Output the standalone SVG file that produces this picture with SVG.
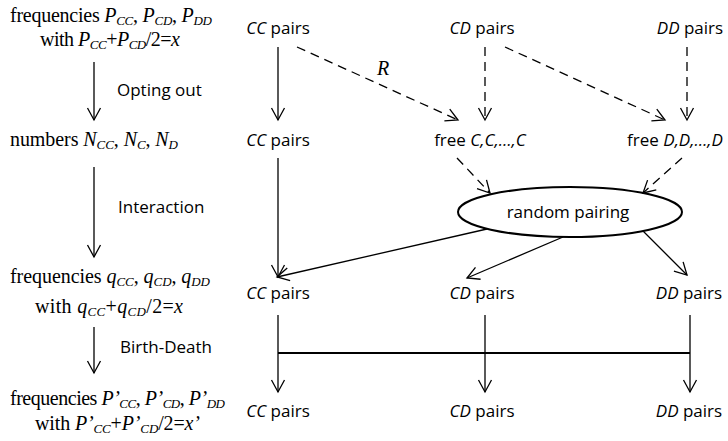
<svg xmlns="http://www.w3.org/2000/svg" width="728" height="441" viewBox="0 0 728 441">
<defs>
<style>
.serif{font-family:"Liberation Serif","Times New Roman",serif;font-size:20px;fill:#000}
.sans{font-family:"Open Sans","Liberation Sans",sans-serif;font-size:17px;fill:#000}
.it{font-style:italic}
.sub{font-style:italic;font-size:13px}
.ln{fill:none;stroke:#000;stroke-width:1.3}
.dash{stroke-dasharray:9 6}
</style>
<marker id="ah" viewBox="-14 -8 16 16" refX="0" refY="0" markerWidth="16" markerHeight="16" markerUnits="userSpaceOnUse" orient="auto">
<path d="M-12,-6.5 L0,0 L-12,6.5" fill="none" stroke="#000" stroke-width="1.3"/>
</marker>
</defs>
<rect width="728" height="441" fill="#fff"/>

<g id="left-1">
<text class="serif" x="10" y="22" textLength="202" lengthAdjust="spacing">frequencies <tspan class="it">P</tspan><tspan class="sub" dy="3">CC</tspan><tspan dy="-3">, </tspan><tspan class="it">P</tspan><tspan class="sub" dy="3">CD</tspan><tspan dy="-3">, </tspan><tspan class="it">P</tspan><tspan class="sub" dy="3">DD</tspan></text>
<text class="serif" x="40" y="46" textLength="140" lengthAdjust="spacing">with <tspan class="it">P</tspan><tspan class="sub" dy="3">CC</tspan><tspan dy="-3">+</tspan><tspan class="it">P</tspan><tspan class="sub" dy="3">CD</tspan><tspan dy="-3">/2=</tspan><tspan class="it">x</tspan></text>
</g>
<g id="left-2">
<text class="serif" x="10" y="146" textLength="168" lengthAdjust="spacing">numbers <tspan class="it">N</tspan><tspan class="sub" dy="3">CC</tspan><tspan dy="-3">, </tspan><tspan class="it">N</tspan><tspan class="sub" dy="3">C</tspan><tspan dy="-3">, </tspan><tspan class="it">N</tspan><tspan class="sub" dy="3">D</tspan></text>
</g>
<g id="left-3">
<text class="serif" x="10" y="283" textLength="200" lengthAdjust="spacing">frequencies <tspan class="it">q</tspan><tspan class="sub" dy="3">CC</tspan><tspan dy="-3">, </tspan><tspan class="it">q</tspan><tspan class="sub" dy="3">CD</tspan><tspan dy="-3">, </tspan><tspan class="it">q</tspan><tspan class="sub" dy="3">DD</tspan></text>
<text class="serif" x="35" y="313" textLength="148" lengthAdjust="spacing">with <tspan class="it">q</tspan><tspan class="sub" dy="3">CC</tspan><tspan dy="-3">+</tspan><tspan class="it">q</tspan><tspan class="sub" dy="3">CD</tspan><tspan dy="-3">/2=</tspan><tspan class="it">x</tspan></text>
</g>
<g id="left-4">
<text class="serif" x="10" y="405" textLength="215" lengthAdjust="spacing">frequencies <tspan class="it">P’</tspan><tspan class="sub" dy="3">CC</tspan><tspan dy="-3">, </tspan><tspan class="it">P’</tspan><tspan class="sub" dy="3">CD</tspan><tspan dy="-3">, </tspan><tspan class="it">P’</tspan><tspan class="sub" dy="3">DD</tspan></text>
<text class="serif" x="35" y="430" textLength="165" lengthAdjust="spacing">with <tspan class="it">P’</tspan><tspan class="sub" dy="3">CC</tspan><tspan dy="-3">+</tspan><tspan class="it">P’</tspan><tspan class="sub" dy="3">CD</tspan><tspan dy="-3">/2=</tspan><tspan class="it">x’</tspan></text>
</g>

<g id="step-labels">
<text class="sans" x="117" y="96">Opting out</text>
<text class="sans" x="118" y="213">Interaction</text>
<text class="sans" x="120" y="353">Birth-Death</text>
</g>

<g id="cc1"><text class="sans" x="278" y="34" text-anchor="middle"><tspan class="it">CC</tspan> pairs</text></g>
<g id="cd1"><text class="sans" x="482" y="34" text-anchor="middle"><tspan class="it">CD</tspan> pairs</text></g>
<g id="dd1"><text class="sans" x="690" y="34" text-anchor="middle"><tspan class="it">DD</tspan> pairs</text></g>

<g id="cc2"><text class="sans" x="278" y="146" text-anchor="middle"><tspan class="it">CC</tspan> pairs</text></g>
<g id="freec"><text class="sans" x="480" y="146" text-anchor="middle">free <tspan class="it">C,C,…,C</tspan></text></g>
<g id="freed"><text class="sans" x="675" y="146" text-anchor="middle">free <tspan class="it">D,D,…,D</tspan></text></g>

<g id="pairing">
<ellipse cx="570" cy="212" rx="112" ry="25" fill="none" stroke="#000" stroke-width="2"/>
<text class="sans" x="568" y="218" text-anchor="middle">random pairing</text>
</g>

<g id="cc3"><text class="sans" x="278" y="299" text-anchor="middle"><tspan class="it">CC</tspan> pairs</text></g>
<g id="cd3"><text class="sans" x="482" y="299" text-anchor="middle"><tspan class="it">CD</tspan> pairs</text></g>
<g id="dd3"><text class="sans" x="689" y="299" text-anchor="middle"><tspan class="it">DD</tspan> pairs</text></g>

<g id="cc4"><text class="sans" x="278" y="417" text-anchor="middle"><tspan class="it">CC</tspan> pairs</text></g>
<g id="cd4"><text class="sans" x="482" y="417" text-anchor="middle"><tspan class="it">CD</tspan> pairs</text></g>
<g id="dd4"><text class="sans" x="689" y="417" text-anchor="middle"><tspan class="it">DD</tspan> pairs</text></g>

<g id="connectors">
<line class="ln" x1="94" y1="62" x2="94" y2="120" marker-end="url(#ah)"/>
<line class="ln" x1="94" y1="167" x2="94" y2="257" marker-end="url(#ah)"/>
<line class="ln" x1="94" y1="327" x2="94" y2="373" marker-end="url(#ah)"/>

<line class="ln" x1="278" y1="47" x2="278" y2="120" marker-end="url(#ah)"/>
<line class="ln dash" x1="485" y1="47" x2="485" y2="120" marker-end="url(#ah)"/>
<line class="ln dash" x1="687" y1="47" x2="687" y2="120" marker-end="url(#ah)"/>
<line class="ln dash" x1="297" y1="47" x2="458" y2="120" marker-end="url(#ah)"/>
<line class="ln dash" x1="505" y1="47" x2="665" y2="120" marker-end="url(#ah)"/>
<text class="serif it" x="377" y="75" font-size="19">R</text>

<line class="ln dash" x1="457" y1="158" x2="490" y2="193" marker-end="url(#ah)"/>
<line class="ln dash" x1="682" y1="158" x2="643" y2="193" marker-end="url(#ah)"/>

<line class="ln" x1="278" y1="158" x2="278" y2="277" marker-end="url(#ah)"/>
<line class="ln" x1="487" y1="229" x2="277" y2="277" marker-end="url(#ah)"/>
<line class="ln" x1="563" y1="237" x2="467" y2="278" marker-end="url(#ah)"/>
<line class="ln" x1="643" y1="231" x2="687" y2="275" marker-end="url(#ah)"/>

<line class="ln" x1="278" y1="315" x2="278" y2="392" marker-end="url(#ah)"/>
<line class="ln" x1="485" y1="315" x2="485" y2="392" marker-end="url(#ah)"/>
<line class="ln" x1="690" y1="315" x2="690" y2="392" marker-end="url(#ah)"/>
<line x1="278" y1="353" x2="690" y2="353" stroke="#000" stroke-width="2"/>
</g>
</svg>
